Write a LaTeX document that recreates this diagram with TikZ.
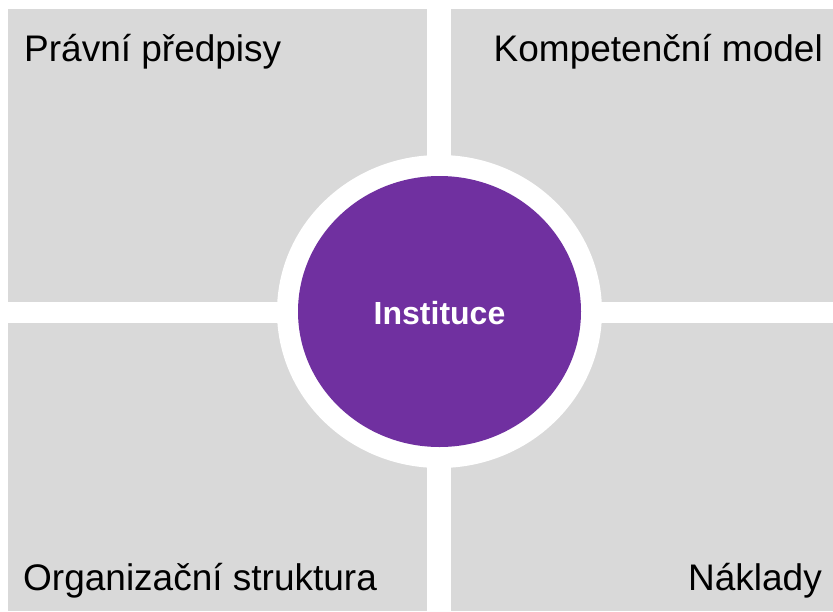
\documentclass[tikz,border=0pt]{standalone}
\usepackage{fontspec}
\setmainfont{Liberation Sans}
\usetikzlibrary{shapes.geometric}
\definecolor{panelgray}{HTML}{D9D9D9}
\definecolor{instpurple}{HTML}{7030A0}
\tikzset{
  panel/.style={fill=panelgray, draw=none},
  label/.style={inner sep=0pt, font=\fontsize{37}{44}\selectfont, text=black},
}
\begin{document}
\begin{tikzpicture}[x=1pt, y=-1pt]
\useasboundingbox[fill=white] (0,0) rectangle (833,611);
\fill[panel] (8,9) rectangle (427,302);
\fill[panel] (451,9) rectangle (833,302);
\fill[panel] (8,323) rectangle (427,611);
\fill[panel] (451,323) rectangle (833,611);
\node[ellipse, fill=white, minimum width=325pt, minimum height=313pt, inner sep=0pt] (ring) at (439.5,311.5) {};
\node[ellipse, fill=instpurple, minimum width=283pt, minimum height=271pt, inner sep=0pt] (inst) at (439.5,311.5) {};
\node[inner sep=0pt, anchor=base, text=white, font=\bfseries\fontsize{32}{38}\selectfont] (insttext) at (439.5,324) {Instituce};
\node[label, anchor=base west] (pp) at (24,61) {Právní předpisy};
\node[label, anchor=base east] (km) at (823,61) {Kompetenční model};
\node[label, anchor=base west] (os) at (23,590) {Organizační struktura};
\node[label, anchor=base east] (nk) at (822,590) {Náklady};
\end{tikzpicture}
\end{document}
